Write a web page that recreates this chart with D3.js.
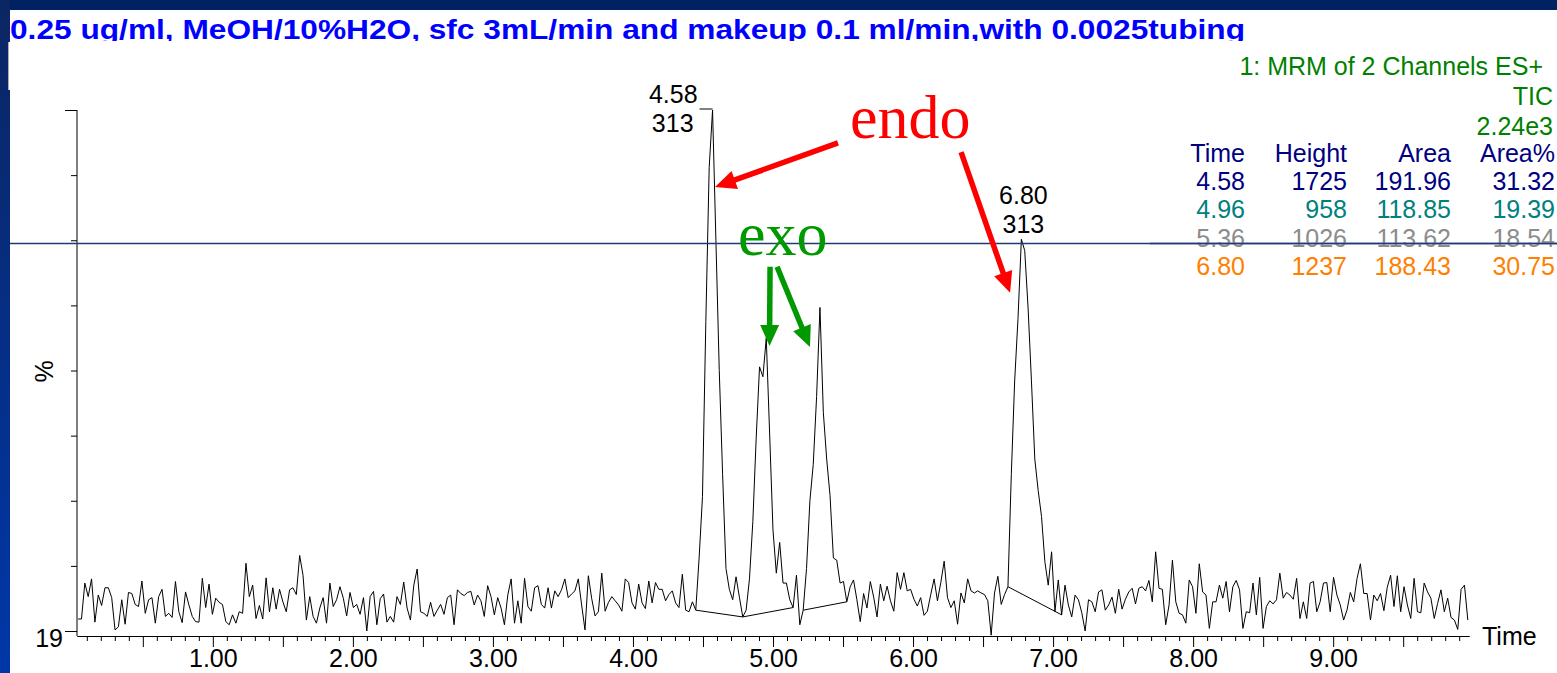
<!DOCTYPE html>
<html><head><meta charset="utf-8">
<script src="https://cdn.jsdelivr.net/npm/d3@7"></script>
<style>html,body{margin:0;padding:0;background:#fff;overflow:hidden}</style>
</head><body><svg id="c" width="1557" height="673"></svg>
<script>
// ---------------- DATA ----------------
const titleText = "0.25 ug/ml, MeOH/10%H2O, sfc 3mL/min and makeup 0.1 ml/min,with 0.0025tubing";
const channelInfo = ["1: MRM of 2 Channels ES+", "TIC", "2.24e3"];
const yBottomLabel = "19";
const yAxisLabel = "%";
const xAxisLabel = "Time";
const xTickLabels = ["1.00","2.00","3.00","4.00","5.00","6.00","7.00","8.00","9.00"];
const xTickValues = [1,2,3,4,5,6,7,8,9];

// scan times (min) = SCAN_START + index * SCAN_INTERVAL
const SCAN_START = 0.038;
const SCAN_INTERVAL = 0.02397;
// relative intensity (%) per scan
const intensity = [
2.3,2.3,9.2,6.6,10.0,1.7,6.9,4.9,8.3,8.3,
6.4,0.2,0.8,6.0,1.3,7.4,7.2,5.1,4.7,9.6,
3.4,6.0,6.4,1.5,6.6,8.0,2.8,3.4,2.6,9.5,
3.7,1.6,7.5,5.0,2.8,1.8,1.7,10.1,4.5,9.0,
3.2,6.3,5.5,5.1,1.8,1.2,3.1,1.5,3.7,3.4,
13.0,6.6,8.8,2.4,4.9,2.3,10.2,3.7,8.3,4.2,
8.0,5.6,3.7,7.9,8.3,7.0,14.5,10.7,2.1,6.6,
2.8,1.5,4.4,6.4,1.5,9.2,4.7,6.0,8.5,
6.3,2.9,7.4,4.5,5.1,3.2,6.4,0.0,6.6,7.6,
1.2,6.2,7.1,1.7,2.8,1.7,6.6,5.1,9.4,4.4,
2.1,8.8,11.9,3.7,3.4,2.8,5.5,2.8,4.0,5.1,
3.2,6.4,6.9,1.2,7.9,7.2,6.8,7.4,7.6,5.0,
6.9,5.8,2.8,8.7,6.6,3.1,6.4,4.4,1.2,6.9,
10.0,1.5,5.8,1.5,10.1,4.7,3.8,8.3,8.7,5.1,
4.4,8.3,4.4,7.7,6.6,7.9,10.0,6.4,7.1,7.7,
10.0,5.0,0.2,10.6,6.2,2.9,3.7,
11.1,3.8,5.5,6.6,5.8,5.0,3.8,10.0,9.3,5.4,
4.2,9.0,5.4,4.3,9.6,5.4,9.3,8.0,8.0,5.8,
7.0,7.7,5.4,4.5,10.9,4.0,3.7,5.6,4.0,14,
25.8,59.4,89,
100,
75,50,30,12,8,6,10.4,6.5,2.7,4.0,10,21,37,50.7,48.8,
56.2,
38,19.4,11.1,17,9.2,9.2,6.0,4.5,10.7,1.2,4.0,12,25,32,45,
62.1,
42,33,26,14,13.6,9.2,9.5,5.6,
8.5,9.8,6.0,1.8,7.2,4.4,9.5,6.5,2.7,9.0,
5.8,8.6,5.8,3.8,11.2,8.0,11.2,7.7,8.0,6.1,
4.8,6.4,3.0,3.8,7.0,10.0,5.8,9.3,13.4,6.4,
4.5,5.8,1.3,7.3,5.4,10.0,7.7,7.3,7.7,7.3,
7.0,5.8,-0.8,7.3,10.5,5.1,7.0,8.5,
30,48,60,75.2,73,62,48,33,27,22,13.3,8.8,15.2,3.7,9.8,3.1,8.8,5,2.7,6.9,6.0,3.5,0.0,6.0,5.6,3.7,7.5,
7.9,4.0,5.0,6.5,3.4,8.0,4.2,6.1,7.5,8.2,
5.2,8.2,8.5,7.7,9.7,5.6,15.2,8.2,8.0,1.2,
5.0,13.6,5.6,3.4,3.1,1.5,9.8,8.5,3.4,12.9,
7.5,6.9,0.5,5.6,5.6,8.8,6.3,9.5,3.7,8.5,
9.7,7.9,0.5,3.7,3.5,9.2,3.1,10.3,0.5,4.7,
5.8,5.2,6.0,11.1,6.3,7.4,6.9,6.1,10.1,2.4,
5.6,2.4,9.2,9.5,3.7,5.6,9.2,9.3,3.7,10.3,
6.9,5.0,2.1,4.0,7.4,5.6,10.1,12.9,7.2,7.2,
2.1,6.9,5.8,7.2,3.9,8.4,10.7,4.7,10.6,3.7,
8.5,5.0,2.4,10.1,3.7,3.5,9.2,7.5,6.3,2.4,
5.3,7.9,3.7,6.3,2.6,2.1,0.3,8.0,8.8,2.1
];

// integration baselines: pairs of scan indices
const integrationBaselines = [[184,198],[198,213],[216,229],[277,293]];

// labelled peaks (scan index, retention time, label)
const peakIndex = [189, 281];
const peakRT = ["4.58", "6.80"];
const peakNote = ["313", "313"];
const peakLabelSide = ["left", "top"];

// peak table
const tableHeader = ["Time","Height","Area","Area%"];
const tableTime   = ["4.58","4.96","5.36","6.80"];
const tableHeight = ["1725","958","1026","1237"];
const tableArea   = ["191.96","118.85","113.62","188.43"];
const tableAreaPct= ["31.32","19.39","18.54","30.75"];
const tableColors = ["#000080","#008080","#8c8c8c","#ff7f00"];

// annotations in data coordinates [time, %]
const annoWords = ["endo","exo"];
const annoWordPos = [[5.55, 94.6],[4.75, 72.2]];
const annoWordColor = ["#ff0000","#009900"];
const redArrows = [[[5.464,93.7],[4.586,85.2]], [[6.343,91.9],[6.693,64.9]]];
const greenArrows = [[[4.979,69.9],[4.975,54.7]], [[5.029,69.9],[5.264,54.5]]];

// ---------------- DRAW ----------------
const W = 1557, H = 673;
const FONT = "'Liberation Sans', Arial, Helvetica, sans-serif";
const SERIF = "'Liberation Serif', 'Times New Roman', serif";
const svg = d3.select("#c");

const defs = svg.append("defs");
const g0 = defs.append("linearGradient").attr("id","lb").attr("x1",0).attr("y1",0).attr("x2",0).attr("y2",1);
g0.append("stop").attr("offset","0%").attr("stop-color","#0b2662");
g0.append("stop").attr("offset","100%").attr("stop-color","#0037a8");
defs.append("clipPath").attr("id","tclip").append("rect").attr("x",10).attr("y",10).attr("width",W).attr("height",31);

svg.append("rect").attr("width",W).attr("height",H).attr("fill","#fff");
svg.append("rect").attr("x",0).attr("y",0).attr("width",W).attr("height",10).attr("fill","#002162");
svg.append("rect").attr("x",0).attr("y",0).attr("width",10).attr("height",H).attr("fill","url(#lb)");
svg.append("rect").attr("x",8).attr("y",42).attr("width",3).attr("height",48).attr("fill","#fff");
svg.append("line").attr("x1",8.5).attr("x2",8.5).attr("y1",42).attr("y2",90).attr("stroke","#b0b0b0").attr("stroke-width",1);

// title
svg.append("text").attr("clip-path","url(#tclip)")
  .attr("x",10).attr("y",39)
  .attr("font-family",FONT).attr("font-weight","bold").attr("font-size",28)
  .attr("fill","#0000ff")
  .attr("textLength",1235).attr("lengthAdjust","spacingAndGlyphs")
  .text(titleText);

// scales
const x = d3.scaleLinear().domain([0.03, 9.97]).range([77, 1469]);
const y = d3.scaleLinear().domain([0, 100]).range([631, 110]);
const AXIS_Y = 636;

// x axis
const minorTicks = d3.range(1, 100).map(k => k / 10).filter(v => Math.round(v * 10) % 5 !== 0);
const halfTicks = d3.range(1, 20).map(k => k / 2);
const xAxisG = svg.append("g").attr("transform",`translate(0,${AXIS_Y})`);
xAxisG.append("g").call(d3.axisBottom(x).tickValues(minorTicks).tickSize(5).tickSizeOuter(0).tickFormat(""));
const xMaj = xAxisG.append("g").call(d3.axisBottom(x).tickValues(halfTicks).tickSize(11).tickSizeOuter(0)
  .tickFormat(d => { const i = xTickValues.indexOf(d); return i >= 0 ? xTickLabels[i] : ""; }));
xAxisG.selectAll("path.domain").attr("stroke","#000").attr("stroke-width",1);
xAxisG.selectAll(".tick line").attr("stroke","#000").attr("stroke-width",1);
xMaj.selectAll("text").attr("y",31).attr("dy",null)
  .attr("font-family",FONT).attr("font-size",25).attr("fill","#000");

svg.append("text").attr("x",x.range()[1] + 13).attr("y",AXIS_Y + 9)
  .attr("font-family",FONT).attr("font-size",25).attr("fill","#000").text(xAxisLabel);

// y axis
const yAxisG = svg.append("g").attr("transform","translate(77,0)");
yAxisG.append("g").call(d3.axisLeft(y).tickValues([12.5,25,37.5,50,62.5,75,87.5]).tickSize(6).tickSizeOuter(0).tickFormat(""));
const yEnds = yAxisG.append("g").call(d3.axisLeft(y).tickValues([0,100]).tickSize(12).tickSizeOuter(0)
  .tickFormat(d => d === 0 ? yBottomLabel : ""));
yAxisG.selectAll("path.domain").remove();
yAxisG.selectAll(".tick line").attr("stroke","#000").attr("stroke-width",1);
yEnds.selectAll("text").attr("x",-14).attr("dy",15)
  .attr("font-family",FONT).attr("font-size",25).attr("fill","#000");
yAxisG.append("line").attr("x1",0).attr("x2",0).attr("y1",y(100)).attr("y2",AXIS_Y).attr("stroke","#000").attr("stroke-width",1);

svg.append("text").attr("transform",`translate(53,${(y(0)+y(100))/2 + 1}) rotate(-90)`)
  .attr("text-anchor","middle").attr("font-family",FONT).attr("font-size",25).attr("fill","#000").text(yAxisLabel);

// trace
const scanTime = i => SCAN_START + i * SCAN_INTERVAL;
const line = d3.line().x((d, i) => x(scanTime(i))).y(d => y(d));
svg.append("path").datum(intensity).attr("d", line)
  .attr("fill","none").attr("stroke","#000").attr("stroke-width",1).attr("stroke-linejoin","round");

// integration baselines
svg.selectAll("line.base").data(integrationBaselines).enter().append("line")
  .attr("x1", d => x(scanTime(d[0]))).attr("y1", d => y(intensity[d[0]]))
  .attr("x2", d => x(scanTime(d[1]))).attr("y2", d => y(intensity[d[1]]))
  .attr("stroke","#000").attr("stroke-width",1);

// peak labels
peakIndex.forEach((idx, k) => {
  const px = x(scanTime(idx)), py = y(intensity[idx]);
  const t = svg.append("g").attr("font-family",FONT).attr("font-size",25).attr("fill","#000");
  if (peakLabelSide[k] === "left") {
    t.append("text").attr("x",px - 15).attr("y",py - 7).attr("text-anchor","end").text(peakRT[k]);
    t.append("text").attr("x",px - 19).attr("y",py + 22).attr("text-anchor","end").text(peakNote[k]);
    svg.append("line").attr("x1",px - 13).attr("x2",px).attr("y1",py - 1).attr("y2",py - 1).attr("stroke","#000").attr("stroke-width",1);
  } else {
    t.append("text").attr("x",px + 2).attr("y",py - 35).attr("text-anchor","middle").text(peakRT[k]);
    t.append("text").attr("x",px + 2).attr("y",py - 6).attr("text-anchor","middle").text(peakNote[k]);
  }
});

// horizontal slide rule line
svg.append("line").attr("x1",10).attr("x2",W).attr("y1",243.5).attr("y2",243.5)
  .attr("stroke","#1f3a78").attr("stroke-width",1.3);

// channel info
const infoG = svg.append("g").attr("font-family",FONT).attr("font-size",25).attr("fill","#008000").attr("text-anchor","end");
infoG.append("text").attr("x",1543).attr("y",75).text(channelInfo[0]);
infoG.append("text").attr("x",1553).attr("y",105).text(channelInfo[1]);
infoG.append("text").attr("x",1553).attr("y",135).text(channelInfo[2]);

// table
const colRight = [1245, 1347, 1451, 1555];
const tg = svg.append("g").attr("font-family",FONT).attr("font-size",25).attr("text-anchor","end");
tableHeader.forEach((h, c) => tg.append("text").attr("x",colRight[c]).attr("y",162).attr("fill","#000080").text(h));
tableTime.forEach((v, r) => {
  const row = [tableTime[r], tableHeight[r], tableArea[r], tableAreaPct[r]];
  row.forEach((s, c) => tg.append("text").attr("x",colRight[c]).attr("y",190 + r * 28.3).attr("fill",tableColors[r]).text(s));
});
// strike line over table row crossing
svg.append("line").attr("x1",1150).attr("x2",W).attr("y1",243.5).attr("y2",243.5)
  .attr("stroke","#1f3a78").attr("stroke-width",1.3);

// arrows
function arrow(a, color) {
  const x1 = x(a[0][0]), y1 = y(a[0][1]), x2 = x(a[1][0]), y2 = y(a[1][1]);
  const dx = x2 - x1, dy = y2 - y1, L = Math.hypot(dx, dy);
  const ux = dx / L, uy = dy / L, hl = 21, hw = 9.5;
  const bx = x2 - ux * hl, by = y2 - uy * hl;
  svg.append("line").attr("x1",x1).attr("y1",y1).attr("x2",bx + ux * 2).attr("y2",by + uy * 2)
    .attr("stroke",color).attr("stroke-width",5.5);
  svg.append("path").attr("d",`M${x2},${y2}L${bx - uy * hw},${by + ux * hw}L${bx + uy * hw},${by - ux * hw}Z`)
    .attr("fill",color);
}
redArrows.forEach(a => arrow(a, "#ff0000"));
greenArrows.forEach(a => arrow(a, "#009900"));

annoWords.forEach((w, i) => {
  svg.append("text").attr("x", x(annoWordPos[i][0])).attr("y", y(annoWordPos[i][1]))
    .attr("font-family",SERIF).attr("font-size",62).attr("fill",annoWordColor[i]).text(w);
});
</script>
</body></html>
